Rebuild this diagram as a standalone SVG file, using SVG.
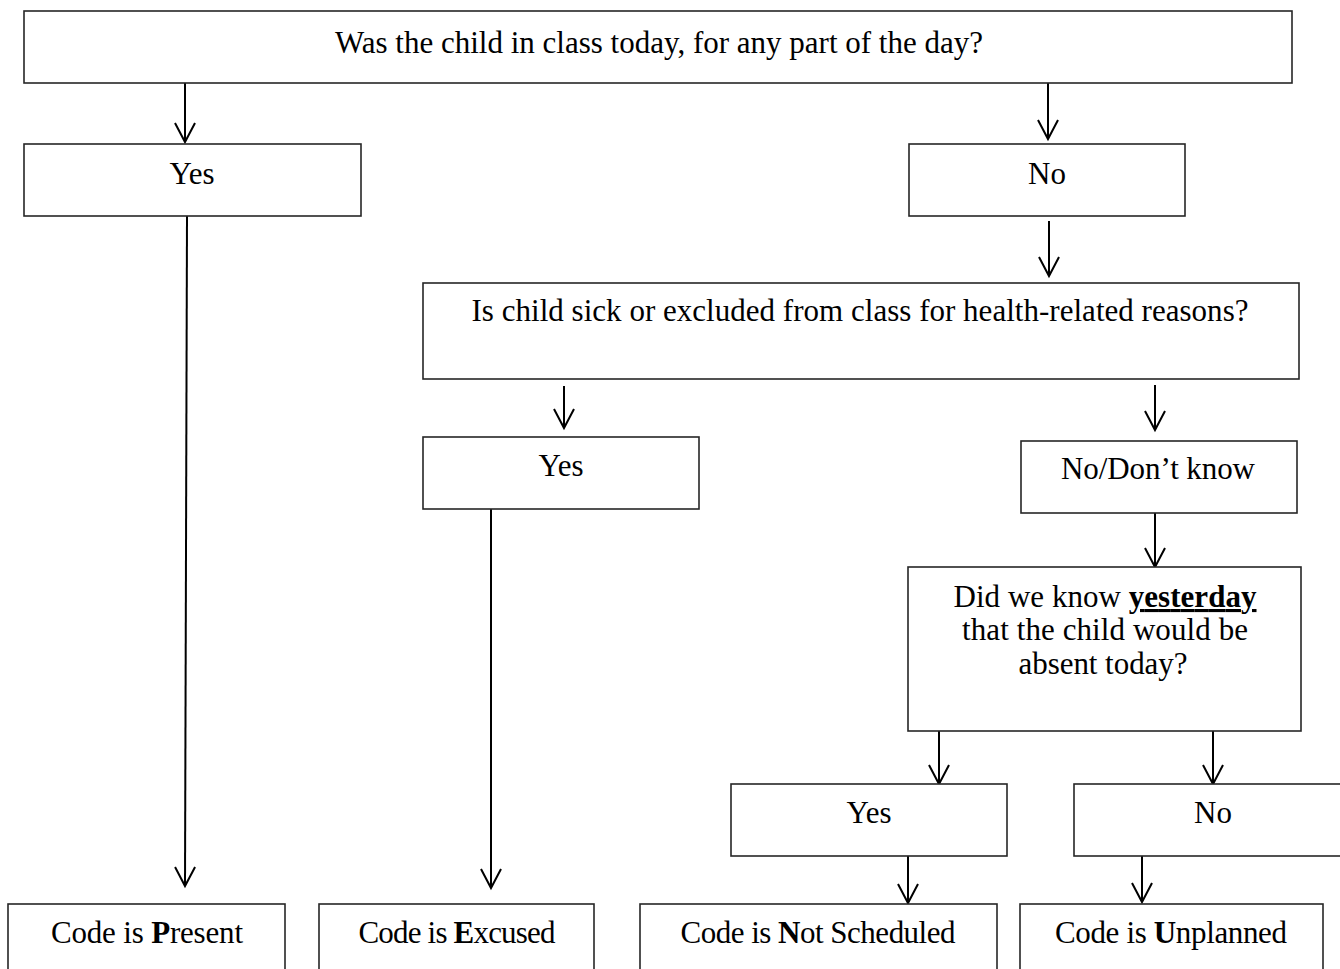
<svg xmlns="http://www.w3.org/2000/svg" width="1340" height="969" viewBox="0 0 1340 969">
<defs>
<style>
.box{fill:#fff;stroke:#262626;stroke-width:1.6}
.t{font-family:"Liberation Serif","Times New Roman",serif;font-size:31px;fill:#000;text-anchor:middle}
.b{font-weight:bold}
.u{text-decoration:underline}
.c{stroke:#000;stroke-width:2;fill:none}
</style>
<marker id="ah" markerUnits="userSpaceOnUse" viewBox="-22 -12 24 24" markerWidth="24" markerHeight="24" refX="0" refY="0" orient="auto" overflow="visible">
<path d="M -19 -10 L 0 0 L -19 10" fill="none" stroke="#000" stroke-width="2"/>
</marker>
</defs>
<rect width="1340" height="969" fill="#fff"/>
<g id="connectors">
<line class="c" x1="185" y1="83" x2="185" y2="142" marker-end="url(#ah)"/>
<line class="c" x1="1048" y1="83" x2="1048" y2="139" marker-end="url(#ah)"/>
<line class="c" x1="187" y1="216" x2="185" y2="886" marker-end="url(#ah)"/>
<line class="c" x1="1049" y1="221" x2="1049" y2="276" marker-end="url(#ah)"/>
<line class="c" x1="564" y1="386" x2="564" y2="428" marker-end="url(#ah)"/>
<line class="c" x1="1155" y1="385" x2="1155" y2="430" marker-end="url(#ah)"/>
<line class="c" x1="491" y1="509" x2="491" y2="888" marker-end="url(#ah)"/>
<line class="c" x1="1155" y1="513" x2="1155" y2="567" marker-end="url(#ah)"/>
<line class="c" x1="939" y1="728" x2="939" y2="784" marker-end="url(#ah)"/>
<line class="c" x1="1213" y1="728" x2="1213" y2="784" marker-end="url(#ah)"/>
<line class="c" x1="908" y1="856" x2="908" y2="903" marker-end="url(#ah)"/>
<line class="c" x1="1142" y1="856" x2="1142" y2="902" marker-end="url(#ah)"/>
</g>
<g id="q1">
<rect class="box" x="24" y="11" width="1268" height="72"/>
<text class="t" x="659" y="53" textLength="648" lengthAdjust="spacing">Was the child in class today, for any part of the day?</text>
</g>
<g id="yes1">
<rect class="box" x="24" y="144" width="337" height="72"/>
<text class="t" x="192" y="184">Yes</text>
</g>
<g id="no1">
<rect class="box" x="909" y="144" width="276" height="72"/>
<text class="t" x="1047" y="184">No</text>
</g>
<g id="q2">
<rect class="box" x="423" y="283" width="876" height="96"/>
<text class="t" x="860" y="321" textLength="777" lengthAdjust="spacing">Is child sick or excluded from class for health-related reasons?</text>
</g>
<g id="yes2">
<rect class="box" x="423" y="437" width="276" height="72"/>
<text class="t" x="561" y="476">Yes</text>
</g>
<g id="no2">
<rect class="box" x="1021" y="441" width="276" height="72"/>
<text class="t" x="1158" y="479" textLength="194" lengthAdjust="spacing">No/Don’t know</text>
</g>
<g id="q3">
<rect class="box" x="908" y="567" width="393" height="164"/>
<text class="t" x="1105" y="607" textLength="303" lengthAdjust="spacing">Did we know <tspan class="b u">yesterday</tspan></text>
<text class="t" x="1105" y="640" textLength="286" lengthAdjust="spacing">that the child would be</text>
<text class="t" x="1103" y="674" textLength="169" lengthAdjust="spacing">absent today?</text>
</g>
<g id="yes3">
<rect class="box" x="731" y="784" width="276" height="72"/>
<text class="t" x="869" y="823">Yes</text>
</g>
<g id="no3">
<rect class="box" x="1074" y="784" width="280" height="72"/>
<text class="t" x="1213" y="823">No</text>
</g>
<g id="present">
<rect class="box" x="8" y="904" width="277" height="80"/>
<text class="t" x="147" y="943" textLength="192" lengthAdjust="spacing">Code is <tspan class="b">P</tspan>resent</text>
</g>
<g id="excused">
<rect class="box" x="319" y="904" width="275" height="80"/>
<text class="t" x="457" y="943" textLength="197" lengthAdjust="spacing">Code is <tspan class="b">E</tspan>xcused</text>
</g>
<g id="notscheduled">
<rect class="box" x="640" y="904" width="357" height="80"/>
<text class="t" x="818" y="943" textLength="275" lengthAdjust="spacing">Code is <tspan class="b">N</tspan>ot Scheduled</text>
</g>
<g id="unplanned">
<rect class="box" x="1020" y="904" width="303" height="80"/>
<text class="t" x="1171" y="943" textLength="232" lengthAdjust="spacing">Code is <tspan class="b">U</tspan>nplanned</text>
</g>
</svg>
